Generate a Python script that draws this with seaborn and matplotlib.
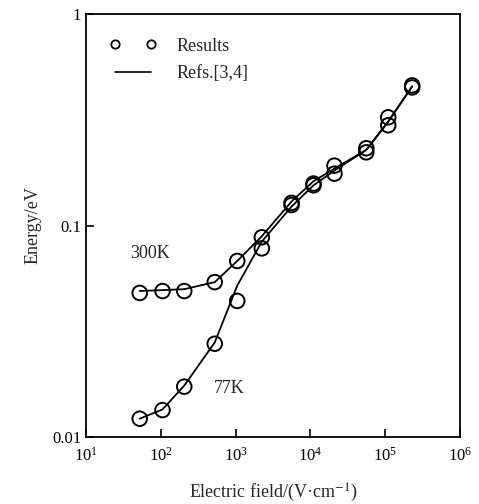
import matplotlib
matplotlib.use("Agg")
import matplotlib.pyplot as plt
from matplotlib.lines import Line2D
from matplotlib.ticker import LogLocator, FixedFormatter, NullLocator
import pandas as pd
import seaborn as sns

# Results (circles)
field_pts = [52, 105, 205, 525, 1050, 2240, 5600, 11000, 21000, 56000, 110000, 230000]
e300_pts = [0.048, 0.049, 0.049, 0.054, 0.068, 0.088, 0.128, 0.158, 0.192, 0.232, 0.325, 0.46]
e77_pts = [0.0122, 0.0134, 0.0173, 0.0276, 0.044, 0.078, 0.125, 0.155, 0.176, 0.222, 0.298, 0.45]

# Refs.[3,4] (lines)
field_ref = [52, 105, 205, 525, 1050, 2240, 5600, 11000, 21000, 56000, 110000, 230000]
e300_ref = [0.049, 0.0495, 0.050, 0.054, 0.068, 0.089, 0.13, 0.162, 0.186, 0.228, 0.31, 0.455]
e77_ref = [0.0122, 0.0135, 0.0175, 0.028, 0.052, 0.084, 0.123, 0.155, 0.182, 0.228, 0.31, 0.455]

pts = pd.DataFrame({
    "field": field_pts * 2,
    "energy": e300_pts + e77_pts,
    "T": ["300K"] * len(field_pts) + ["77K"] * len(field_pts),
})
ref = pd.DataFrame({
    "field": field_ref * 2,
    "energy": e300_ref + e77_ref,
    "T": ["300K"] * len(field_ref) + ["77K"] * len(field_ref),
})

sns.set_style("ticks")
plt.rcParams["font.family"] = ["Liberation Serif", "DejaVu Serif"]
plt.rcParams["mathtext.fontset"] = "stix"

fig = plt.figure(figsize=(4.79, 5.04), dpi=100)
ax = fig.add_axes([0.18, 0.133, 0.78, 0.839])

sns.lineplot(data=ref, x="field", y="energy", units="T", estimator=None,
             color="black", lw=1.3, ax=ax, legend=False, sort=False)
sns.scatterplot(data=pts, x="field", y="energy", marker="o", s=110,
                facecolor="none", edgecolor="black", linewidth=1.4,
                ax=ax, legend=False)

ax.set_xscale("log")
ax.set_yscale("log")
ax.set_xlim(10, 1e6)
ax.set_ylim(0.01, 1)

ax.xaxis.set_major_locator(LogLocator(base=10, numticks=10))
ax.xaxis.set_minor_locator(NullLocator())
ax.yaxis.set_minor_locator(NullLocator())
ax.set_yticks([0.01, 0.1, 1])
ax.yaxis.set_major_formatter(FixedFormatter(["0.01", "0.1", "1"]))
ax.tick_params(direction="in", length=6, width=1.2, labelsize=12, colors="black")
ax.tick_params(axis="x", pad=7)

for sp in ax.spines.values():
    sp.set_linewidth(1.3)
    sp.set_color("black")

ax.set_xlabel("Electric field/(V\u00b7cm$^{-1}$)", fontsize=13, labelpad=12)
ax.set_ylabel("Energy/eV", fontsize=13, labelpad=8)

ax.text(71, 0.0736, "300K", fontsize=13, ha="center", va="center")
ax.text(820, 0.0169, "77K", fontsize=13, ha="center", va="center")

h_pts = Line2D([], [], ls="none", marker="o", mfc="none", mec="black", ms=6, mew=1.3)
h_ref = Line2D([], [], color="black", lw=1.2)
ax.legend([h_pts, h_ref], ["Results", "Refs.[3,4]"], loc="upper left",
          frameon=False, numpoints=2, fontsize=13, handlelength=2.6,
          handletextpad=1.1, labelspacing=0.6, borderaxespad=0.9)

fig.savefig("out.png", dpi=100)
